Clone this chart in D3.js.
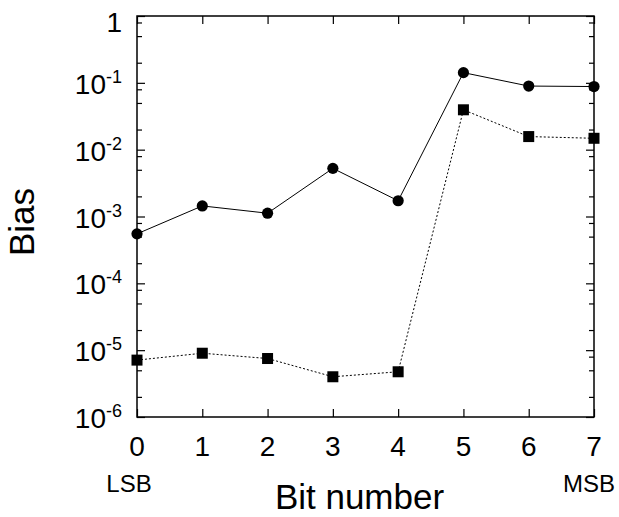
<!DOCTYPE html>
<html>
<head>
<meta charset="utf-8">
<script src="https://cdn.jsdelivr.net/npm/d3@7"></script>
<style>
  body { margin: 0; background: #fff; }
  text { font-family: "Liberation Sans", Arial, sans-serif; fill: #000; }
</style>
</head>
<body>
<script>
// data
var bits = [0, 1, 2, 3, 4, 5, 6, 7];
var biasCircle = [5.5e-4, 1.44e-3, 1.12e-3, 5.25e-3, 1.72e-3, 0.142, 0.0895, 0.088];
var biasSquare = [7.1e-6, 9.0e-6, 7.5e-6, 4.0e-6, 4.75e-6, 0.0395, 0.0157, 0.0148];
var yExponents = [0, -1, -2, -3, -4, -5, -6];
var minorMult = [2, 5, 8];

var width = 619, height = 517;
var margin = {top: 16, right: 25, bottom: 100, left: 137};
var w = width - margin.left - margin.right;
var h = height - margin.top - margin.bottom;

var svg = d3.select("body").append("svg")
    .attr("width", width)
    .attr("height", height);

var g = svg.append("g")
    .attr("transform", "translate(" + margin.left + "," + margin.top + ")");

var x = d3.scaleLinear().domain([0, 7]).range([0, w]);
var y = d3.scaleLog().domain([1e-6, 1]).range([h, 0]);

// minor tick values (2,5,8 per decade)
var minorTicks = [];
yExponents.slice(1).forEach(function(e){
  minorMult.forEach(function(m){ minorTicks.push(m * Math.pow(10, e)); });
});
var majorTicks = yExponents.map(function(e){ return Math.pow(10, e); });

// ticks, all inward
function tickGroup(axis){ return g.append("g").call(axis).call(function(s){ s.select(".domain").remove(); s.selectAll("text").remove(); }); }

tickGroup(d3.axisBottom(x).tickValues(bits).tickSizeInner(-8).tickSizeOuter(0))
  .attr("transform", "translate(0," + h + ")");
tickGroup(d3.axisTop(x).tickValues(bits).tickSizeInner(-8).tickSizeOuter(0));
tickGroup(d3.axisLeft(y).tickValues(majorTicks).tickSizeInner(-8).tickSizeOuter(0));
tickGroup(d3.axisLeft(y).tickValues(minorTicks).tickSizeInner(-5).tickSizeOuter(0));
tickGroup(d3.axisRight(y).tickValues(majorTicks).tickSizeInner(-8).tickSizeOuter(0))
  .attr("transform", "translate(" + w + ",0)");
tickGroup(d3.axisRight(y).tickValues(minorTicks).tickSizeInner(-5).tickSizeOuter(0))
  .attr("transform", "translate(" + w + ",0)");
g.selectAll(".tick line").attr("stroke", "#000").attr("stroke-width", 1.2);

// frame
g.append("rect")
  .attr("width", w).attr("height", h)
  .attr("fill", "none").attr("stroke", "#000").attr("stroke-width", 1.5);

// x tick labels
g.selectAll(".xlab").data(bits).enter().append("text")
  .attr("class", "xlab")
  .attr("x", function(d){ return x(d); })
  .attr("y", h + 39)
  .attr("text-anchor", "middle")
  .attr("font-size", 28)
  .text(function(d){ return d; });

// y tick labels with superscript
var ylab = g.selectAll(".ylab").data(yExponents).enter().append("text")
  .attr("class", "ylab")
  .attr("x", -15)
  .attr("y", function(d){ return y(Math.pow(10, d)) + (d === 0 ? 16 : 11); })
  .attr("text-anchor", "end")
  .attr("font-size", 28);
ylab.append("tspan").text(function(d){ return d === 0 ? "1" : "10"; });
ylab.filter(function(d){ return d !== 0; }).append("tspan")
  .attr("font-size", 18)
  .attr("dy", -11)
  .text(function(d){ return "-" + (-d); });

// lines
var lineC = d3.line().x(function(d, i){ return x(bits[i]); }).y(function(d){ return y(d); });

g.append("path").datum(biasSquare)
  .attr("d", lineC)
  .attr("fill", "none").attr("stroke", "#000").attr("stroke-width", 1)
  .attr("stroke-dasharray", "2,2");

g.append("path").datum(biasCircle)
  .attr("d", lineC)
  .attr("fill", "none").attr("stroke", "#000").attr("stroke-width", 1);

// markers
g.selectAll(".sq").data(biasSquare).enter().append("rect")
  .attr("class", "sq")
  .attr("x", function(d, i){ return x(bits[i]) - 5.5; })
  .attr("y", function(d){ return y(d) - 5.5; })
  .attr("width", 11).attr("height", 11)
  .attr("fill", "#000");

g.selectAll(".dot").data(biasCircle).enter().append("circle")
  .attr("class", "dot")
  .attr("cx", function(d, i){ return x(bits[i]); })
  .attr("cy", function(d){ return y(d); })
  .attr("r", 5.6)
  .attr("fill", "#000");

// axis titles
svg.append("text")
  .attr("transform", "translate(34,222) rotate(-90)")
  .attr("text-anchor", "middle")
  .attr("font-size", 35)
  .text("Bias");

svg.append("text")
  .attr("x", margin.left + w / 2 - 6)
  .attr("y", 509)
  .attr("text-anchor", "middle")
  .attr("font-size", 35)
  .text("Bit number");

svg.append("text")
  .attr("x", 129).attr("y", 492)
  .attr("text-anchor", "middle")
  .attr("font-size", 24)
  .text("LSB");

svg.append("text")
  .attr("x", 589).attr("y", 492)
  .attr("text-anchor", "middle")
  .attr("font-size", 24)
  .text("MSB");
</script>
</body>
</html>
